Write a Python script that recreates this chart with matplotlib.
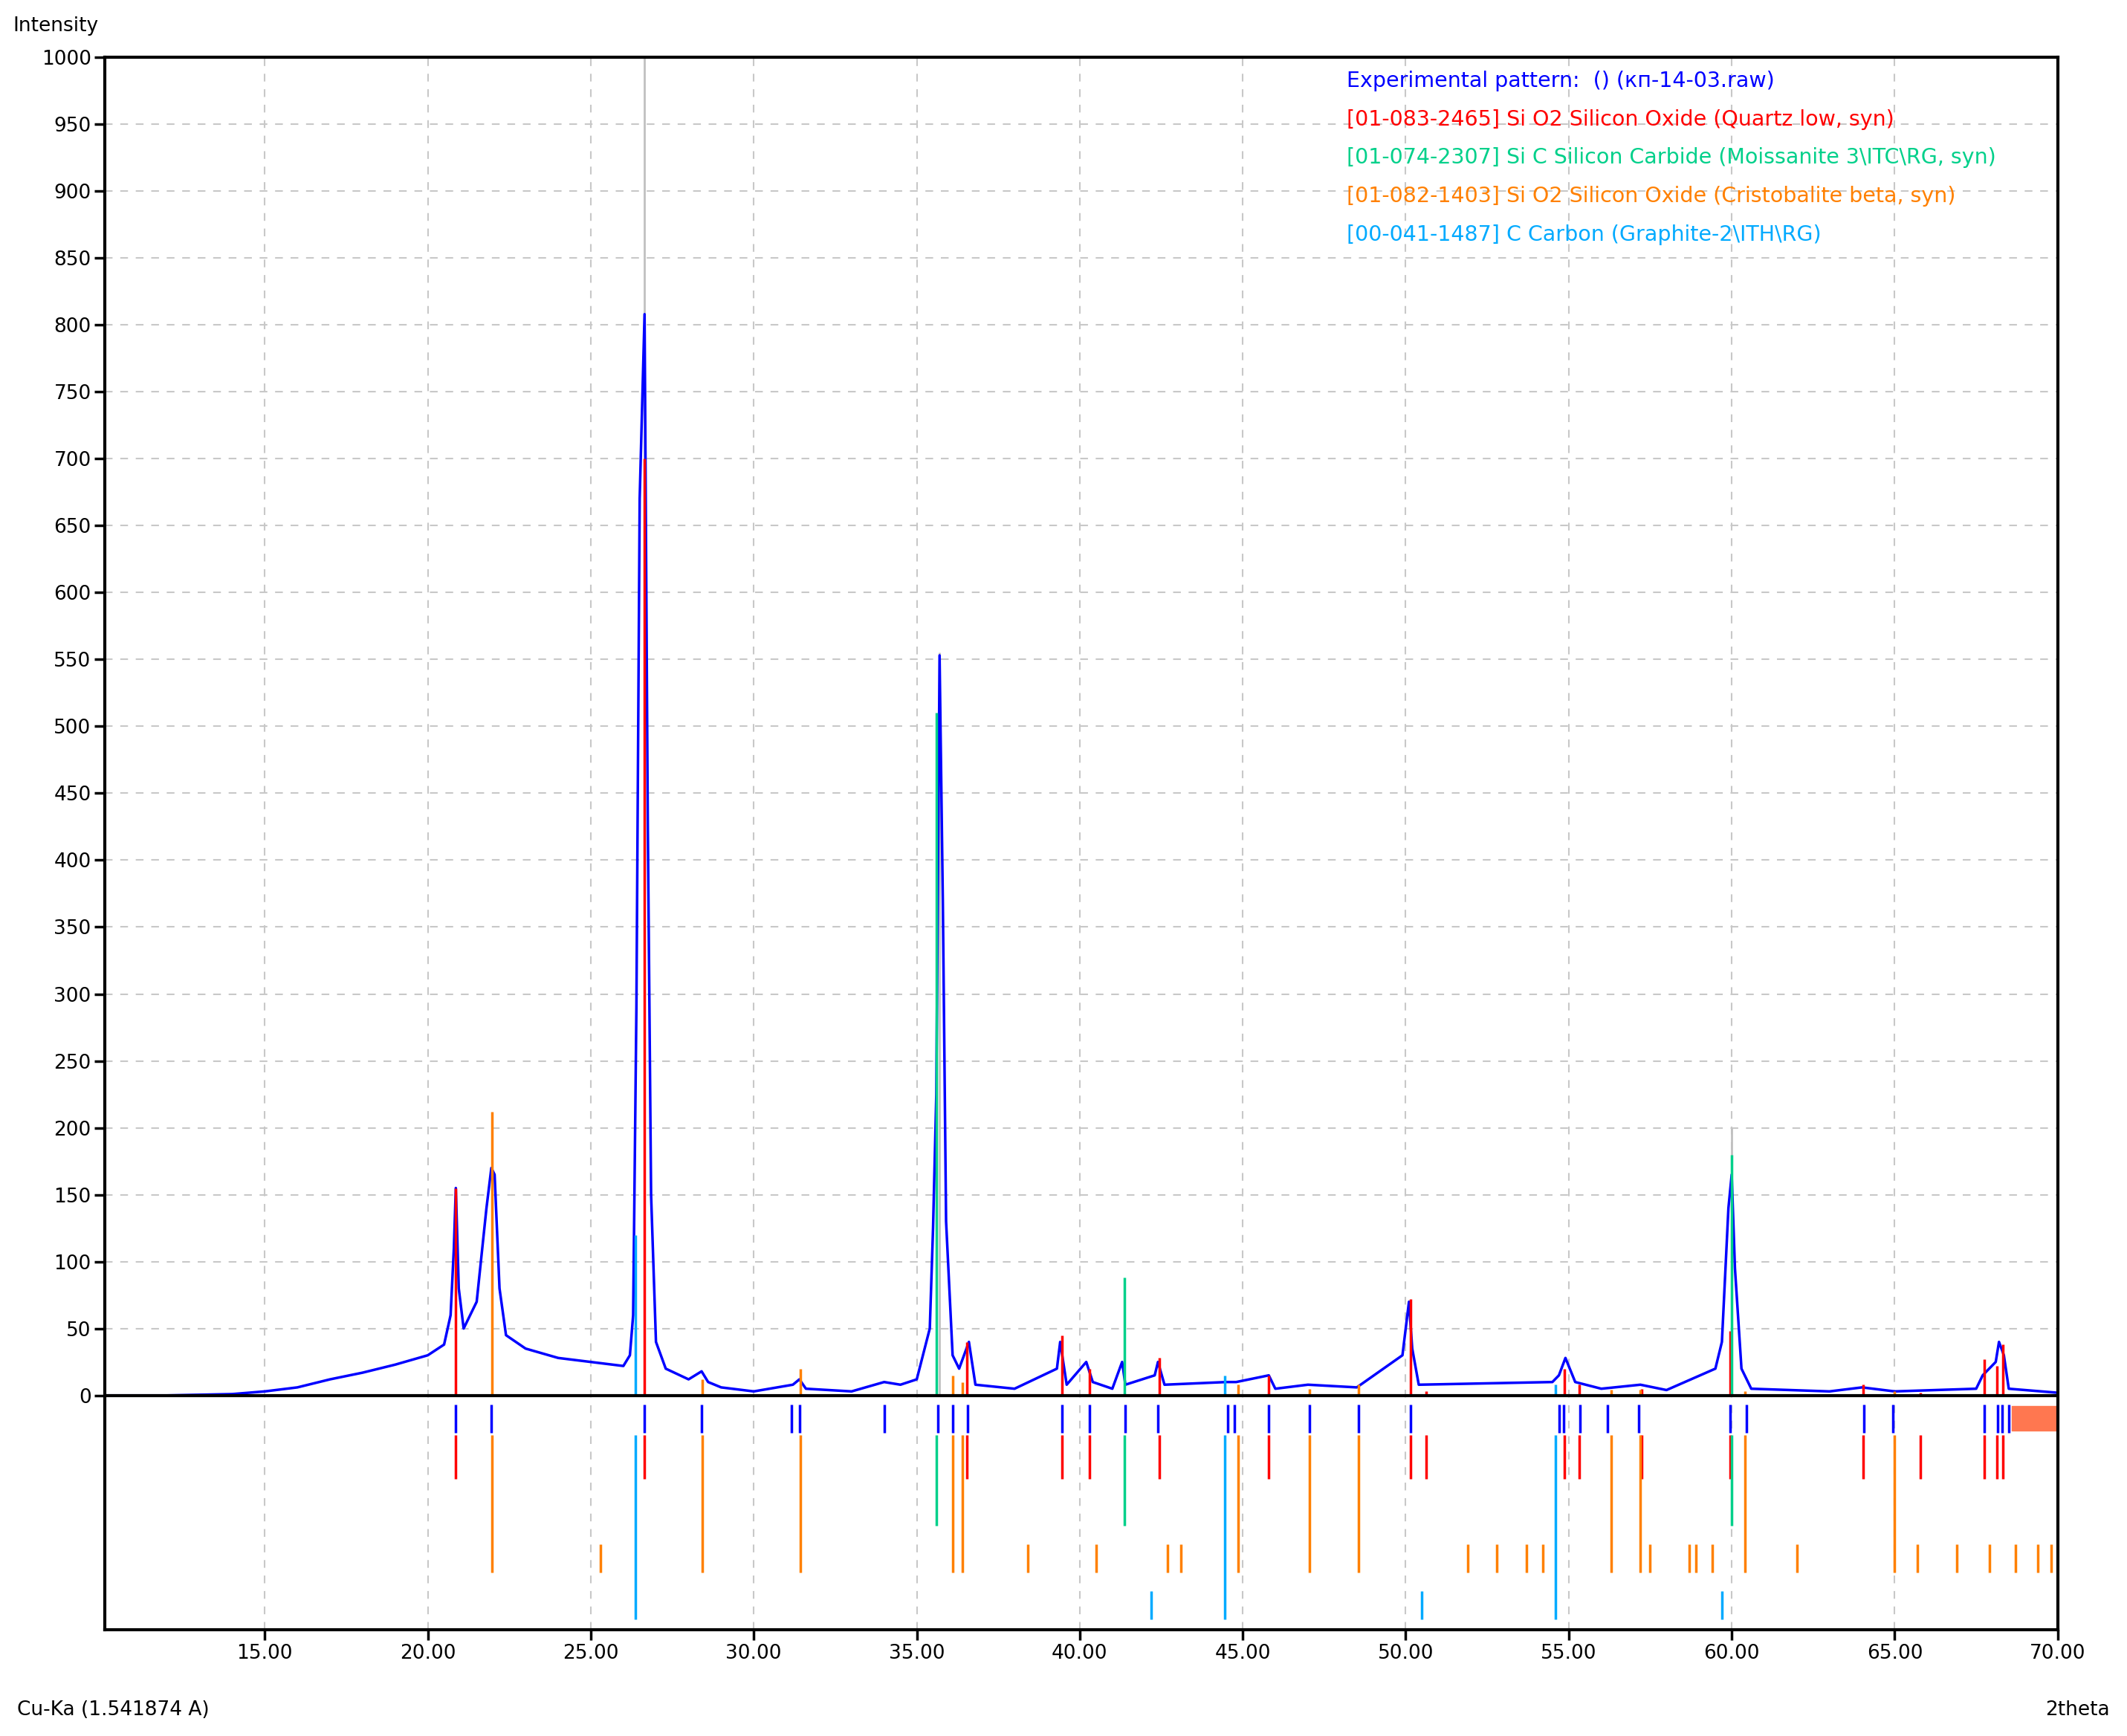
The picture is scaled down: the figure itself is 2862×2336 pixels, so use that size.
import matplotlib.pyplot as plt
import numpy as np

# experimental pattern (2theta, counts)
exp_x = [10.1, 12, 14, 15, 16, 17, 18, 19, 20, 20.5, 20.7, 20.8, 20.86, 20.95, 21.1, 21.5, 21.8, 21.95, 22.05, 22.2, 22.4, 23,
         24, 25, 26, 26.2, 26.3, 26.4, 26.5, 26.65, 26.75, 26.85, 27, 27.3, 28, 28.4, 28.6, 29, 30, 31.2, 31.4, 31.6, 33,
         34, 34.5, 35, 35.4, 35.5, 35.6, 35.7, 35.8, 35.9, 36.1, 36.3, 36.6, 36.8, 38, 39.3, 39.4, 39.6, 40.2, 40.4, 41,
         41.3, 41.4, 42.3, 42.4, 42.6, 44.5, 44.8, 45.8, 46, 47, 48.5, 49.9, 50.1, 50.2, 50.4, 54.5, 54.7, 54.9, 55.2, 56,
         57.2, 58, 59.5, 59.7, 59.9, 60.0, 60.1, 60.3, 60.6, 63, 64, 65, 67.5, 67.7, 68.1, 68.2, 68.35, 68.5, 70]
exp_y = [0, 0, 1, 3, 6, 12, 17, 23, 30, 38, 60, 110, 155, 80, 50, 70, 140, 170, 165, 80, 45, 35,
         28, 25, 22, 30, 60, 290, 670, 808, 425, 150, 40, 20, 12, 18, 10, 6, 3, 8, 12, 5, 3,
         10, 8, 12, 50, 125, 225, 553, 370, 130, 30, 20, 40, 8, 5, 20, 40, 8, 25, 10, 5,
         25, 8, 15, 25, 8, 10, 10, 15, 5, 8, 6, 30, 70, 35, 8, 10, 15, 28, 10, 5,
         8, 4, 20, 40, 140, 165, 95, 20, 5, 3, 6, 3, 5, 15, 25, 40, 30, 5, 2]

# reference sticks in the plot area
quartz_pos = [20.86, 26.64, 36.54, 39.46, 40.29, 42.45, 45.79, 50.14, 50.62, 54.87, 55.33, 57.24, 59.96, 64.03, 65.8, 67.74, 68.14, 68.32]
quartz_int = [155, 700, 40, 45, 20, 28, 15, 72, 3, 20, 8, 5, 48, 8, 2, 27, 22, 38]
sic_pos = [35.6, 41.38, 60.0]
sic_int = [510, 88, 180]
crist_pos = [21.98, 28.42, 31.42, 36.1, 36.4, 44.85, 47.05, 48.55, 56.3, 57.2, 60.4, 65.0]
crist_int = [212, 12, 20, 15, 10, 8, 5, 8, 4, 4, 3, 3]
crist_minor = [25.3, 38.4, 40.5, 42.7, 43.1, 51.9, 52.8, 53.7, 54.2, 57.5, 58.7, 58.9, 59.4, 62.0, 65.7, 66.9, 67.9, 68.7, 69.4, 69.8]
graph_pos = [26.38, 44.45, 54.6]
graph_int = [120, 15, 8]
graph_minor = [42.2, 50.5, 59.7]
grey_pos = [26.64, 35.7, 60.0]
grey_int = [1000, 555, 200]

# peak list found in the experimental pattern
peaks = [20.86, 21.95, 26.64, 28.4, 31.15, 31.4, 34.0, 35.65, 36.1, 36.55, 39.45, 40.3, 41.4, 42.4, 44.55, 44.75,
         45.8, 47.05, 48.55, 50.15, 54.7, 54.85, 55.35, 56.2, 57.15, 59.95, 60.45, 64.05, 64.95, 67.75, 68.15, 68.3, 68.5]

BLUE, RED, GREEN, ORANGE, CYAN = "#0000ff", "#ff0000", "#00d08a", "#ff8000", "#00aaff"
legend = [("Experimental pattern:  () (кп-14-03.raw)", BLUE),
          ("[01-083-2465] Si O2 Silicon Oxide (Quartz low, syn)", RED),
          ("[01-074-2307] Si C Silicon Carbide (Moissanite 3\\ITC\\RG, syn)", GREEN),
          ("[01-082-1403] Si O2 Silicon Oxide (Cristobalite beta, syn)", ORANGE),
          ("[00-041-1487] C Carbon (Graphite-2\\ITH\\RG)", CYAN)]

YB = -175
fig = plt.figure(figsize=(28.62, 23.36), dpi=100)
ax = fig.add_axes([0.0494, 0.0613, 0.918, 0.9057])
ax.set_xlim(10.1, 70)
ax.set_ylim(YB, 1000)

ax.grid(True, linestyle=(0, (5, 5)), color="#c8c8c8", linewidth=1.5)
ax.set_axisbelow(True)

ax.vlines(grey_pos, 0, grey_int, color="#c0c0c0", lw=2)
ax.plot(exp_x, exp_y, color=BLUE, lw=2.5)
ax.vlines(quartz_pos, 0, quartz_int, color=RED, lw=2.5)
ax.vlines(sic_pos, 0, sic_int, color=GREEN, lw=2.5)
ax.vlines(crist_pos, 0, crist_int, color=ORANGE, lw=2.5)
ax.vlines(graph_pos, 0, graph_int, color=CYAN, lw=2.5)
ax.axhline(0, color="black", lw=3)

# stick rows below zero
f = lambda v: YB * v
ax.vlines(peaks, f(0.039), f(0.159), color=BLUE, lw=2.5)
ax.fill_between([68.6, 69.95], f(0.045), f(0.15), color="#ff7750")
ax.vlines(quartz_pos, f(0.168), f(0.357), color=RED, lw=2.5)
ax.vlines(sic_pos, f(0.168), f(0.556), color=GREEN, lw=2.5)
ax.vlines(crist_pos, f(0.168), f(0.755), color=ORANGE, lw=2.5)
ax.vlines(crist_minor, f(0.637), f(0.755), color=ORANGE, lw=2.5)
ax.vlines(graph_pos, f(0.168), f(0.956), color=CYAN, lw=2.5)
ax.vlines(graph_minor, f(0.836), f(0.956), color=CYAN, lw=2.5)

ax.set_yticks(np.arange(0, 1001, 50))
ax.set_xticks(np.arange(15, 71, 5))
ax.set_xticklabels([f"{v:.2f}" for v in np.arange(15, 71, 5)])
ax.tick_params(labelsize=19, width=2.5, length=10, direction="out")
for s in ax.spines.values():
    s.set_linewidth(3)

for i, (txt, col) in enumerate(legend):
    ax.text(0.636, 0.985 - i * 0.0245, txt, color=col, fontsize=20.5, transform=ax.transAxes, va="center")

fig.text(0.006, 0.985, "Intensity", fontsize=19, va="center")
fig.text(0.008, 0.015, "Cu-Ka (1.541874 A)", fontsize=19, va="center")
fig.text(0.992, 0.015, "2theta", fontsize=19, va="center", ha="right")

fig.savefig("out.png", dpi=100)
